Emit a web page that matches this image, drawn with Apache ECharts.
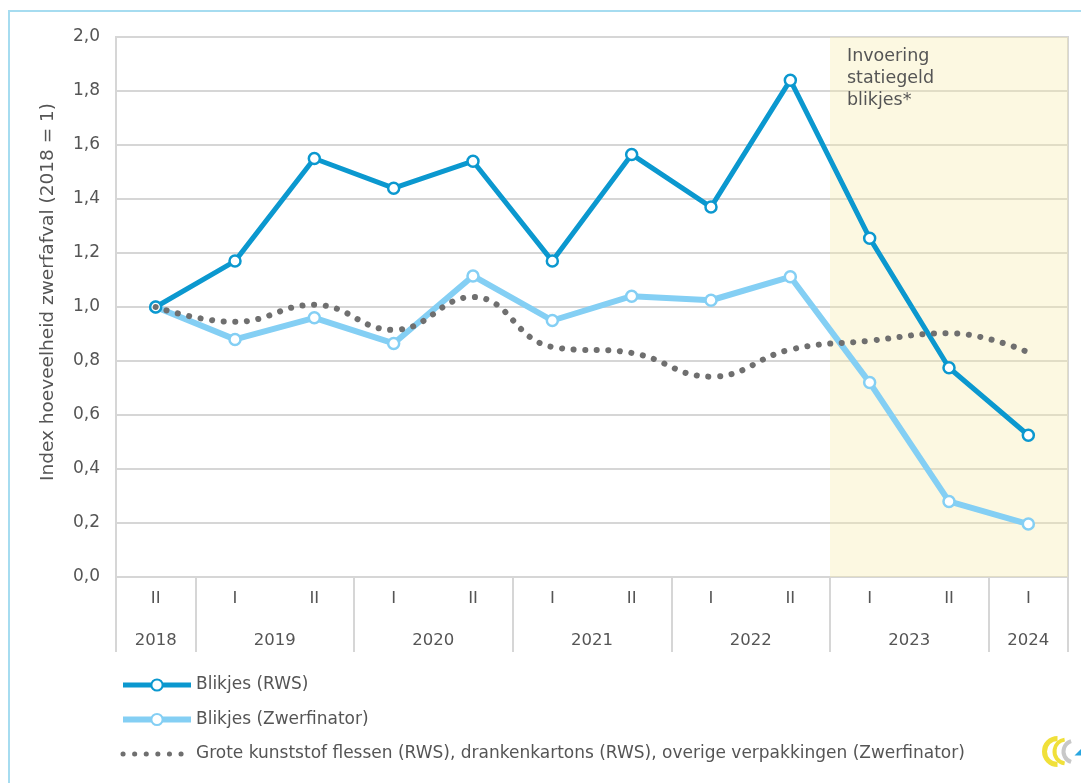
<!DOCTYPE html>
<html>
<head>
<meta charset="utf-8">
<script src="https://cdn.jsdelivr.net/npm/echarts@6/dist/echarts.min.js"></script>
<style>
  html, body { margin: 0; padding: 0; background: #fff; }
  #chart { width: 1081px; height: 783px; }
</style>
</head>
<body>
<div id="chart"></div>
<script>
// half-year periods, 2018-II t/m 2024-I
var halfYears = ['II', 'I', 'II', 'I', 'II', 'I', 'II', 'I', 'II', 'I', 'II', 'I'];
var years = ['2018', '2019', '2020', '2021', '2022', '2023', '2024'];
var yearSpans = [1, 2, 2, 2, 2, 2, 1];

var blikjesRWS = [1.00, 1.17, 1.55, 1.44, 1.54, 1.17, 1.565, 1.37, 1.84, 1.255, 0.775, 0.525];
var blikjesZwerf = [1.00, 0.88, 0.96, 0.865, 1.115, 0.95, 1.04, 1.025, 1.112, 0.72, 0.28, 0.196];
var overigeVerp = [1.00, 0.945, 1.008, 0.915, 1.037, 0.852, 0.83, 0.742, 0.842, 0.875, 0.903, 0.832];

var seriesNames = [
    'Blikjes (RWS)',
    'Blikjes (Zwerfinator)',
    'Grote kunststof flessen (RWS), drankenkartons (RWS), overige verpakkingen (Zwerfinator)'
];
var shadeFromYear = '2023';
var shadeLabel = 'Invoering\nstatiegeld\nblikjes*';

// build unique category names + year group positions
var categories = [];
var yearStart = [];
var yearCenter = {};
var pos = 0;
for (let i = 0; i < years.length; i++) {
    yearStart.push(pos);
    yearCenter[pos + yearSpans[i] / 2] = years[i];
    for (let j = 0; j < yearSpans[i]; j++) {
        categories.push(years[i] + ' ' + halfYears[pos + j]);
    }
    pos += yearSpans[i];
}
var total = pos;
var shadeStart = yearStart[years.indexOf(shadeFromYear)];

var txt = '#555';
var gridCol = '#d6d6d6';
var font = 'DejaVu Sans';
var darkBlue = '#0b98cf';
var lightBlue = '#84cff4';
var grey = '#6f6f6f';

var chartDom = document.getElementById('chart');
var myChart = echarts.init(chartDom);
var option;

option = {
    animation: false,
    textStyle: { fontFamily: font },
    grid: {
        left: 116, right: 13, top: 37, bottom: 206,
        show: true, borderColor: gridCol, borderWidth: 2
    },
    legend: {
        orient: 'vertical',
        left: 120,
        top: 675,
        padding: 0,
        itemWidth: 68,
        itemHeight: 14,
        itemGap: 14.5,
        data: [
            { name: seriesNames[0], lineStyle: { width: 5 } },
            { name: seriesNames[1], lineStyle: { width: 6 } },
            { name: seriesNames[2], lineStyle: { width: 5 },
              itemStyle: { color: 'rgba(0,0,0,0)', borderColor: 'rgba(0,0,0,0)', borderWidth: 0 } }
        ],
        textStyle: { fontSize: 17, color: txt, fontFamily: font, lineHeight: 20 }
    },
    xAxis: [
        {
            type: 'category',
            position: 'bottom',
            data: categories,
            boundaryGap: true,
            axisLine: { show: true, lineStyle: { color: gridCol, width: 2 } },
            axisTick: {
                show: true,
                length: 75,
                interval: function (index) {
                    return yearStart.indexOf(index) >= 0;
                },
                lineStyle: { color: gridCol, width: 2 }
            },
            axisLabel: {
                interval: 0,
                margin: 13,
                fontSize: 16.5,
                color: txt,
                formatter: function (v) { return v.split(' ')[1]; }
            },
            splitLine: { show: false }
        },
        {
            type: 'value',
            position: 'bottom',
            min: 0,
            max: total,
            interval: 0.5,
            axisLine: { show: false },
            axisTick: { show: false },
            splitLine: { show: false },
            axisLabel: {
                margin: 55,
                fontSize: 16.5,
                color: txt,
                showMinLabel: true,
                showMaxLabel: true,
                formatter: function (v) { return yearCenter[v] || ''; }
            }
        }
    ],
    yAxis: {
        type: 'value',
        min: 0,
        max: 2,
        interval: 0.2,
        name: 'Index hoeveelheid zwerfafval (2018 = 1)',
        nameLocation: 'middle',
        nameGap: 58,
        nameTextStyle: { fontSize: 18.5, color: txt, fontFamily: font, padding: [0, 0, 0, 30] },
        axisLine: { show: false },
        axisTick: { show: false },
        axisLabel: {
            fontSize: 17,
            color: txt,
            margin: 16,
            formatter: function (v) { return v.toFixed(1).replace('.', ','); }
        },
        splitLine: { lineStyle: { color: gridCol, width: 2 } }
    },
    series: [
        {
            // shaded period after deposit on cans
            type: 'line',
            name: 'shade',
            xAxisIndex: 1,
            yAxisIndex: 0,
            data: [],
            silent: true,
            markArea: {
                silent: true,
                itemStyle: { color: 'rgba(246, 236, 170, 0.35)' },
                label: {
                    show: true,
                    position: 'insideTopLeft',
                    distance: 0,
                    padding: [8, 0, 0, 17],
                    fontSize: 17.5,
                    lineHeight: 22,
                    color: txt,
                    fontFamily: font,
                    formatter: shadeLabel
                },
                data: [[{ xAxis: shadeStart }, { xAxis: total }]]
            }
        },
        {
            type: 'line',
            name: seriesNames[0],
            data: blikjesRWS,
            color: darkBlue,
            symbol: 'circle',
            symbolSize: 11,
            lineStyle: { width: 5, color: darkBlue },
            itemStyle: { color: '#fff', borderColor: darkBlue, borderWidth: 2.5 },
            z: 3
        },
        {
            type: 'line',
            name: seriesNames[1],
            data: blikjesZwerf,
            color: lightBlue,
            symbol: 'circle',
            symbolSize: 11,
            lineStyle: { width: 6, color: lightBlue },
            itemStyle: { color: '#fff', borderColor: lightBlue, borderWidth: 2.5 },
            z: 2
        },
        {
            type: 'line',
            name: seriesNames[2],
            data: overigeVerp,
            color: grey,
            smooth: 0.45,
            symbol: 'none',
            showSymbol: false,
            lineStyle: { width: 6, color: grey, type: [0.1, 11.5], cap: 'round' },
            z: 4
        }
    ],
    graphic: [
        {
            type: 'rect',
            shape: { x: 9, y: 11, width: 1100, height: 800 },
            style: { fill: 'none', stroke: '#a6dcf0', lineWidth: 2 },
            silent: true
        },
        {
            type: 'group',
            left: 1042,
            top: 736,
            silent: true,
            children: [
                { type: 'arc', shape: { cx: 13, cy: 17, r: 13, startAngle: Math.PI * 0.5, endAngle: Math.PI * 1.5 },
                  style: { stroke: '#f0e03a', lineWidth: 5, fill: 'none' } },
                { type: 'arc', shape: { cx: 22, cy: 17, r: 12, startAngle: Math.PI * 0.55, endAngle: Math.PI * 1.45 },
                  style: { stroke: '#f0e03a', lineWidth: 4, fill: 'none' } },
                { type: 'arc', shape: { cx: 30, cy: 17, r: 11, startAngle: Math.PI * 0.6, endAngle: Math.PI * 1.4 },
                  style: { stroke: '#c8c8c8', lineWidth: 4, fill: 'none' } },
                { type: 'polygon', shape: { points: [[30, 21], [39, 21], [39, 12]] },
                  style: { fill: '#2aa6e0' } }
            ]
        }
    ]
};
option && myChart.setOption(option);
</script>
</body>
</html>
